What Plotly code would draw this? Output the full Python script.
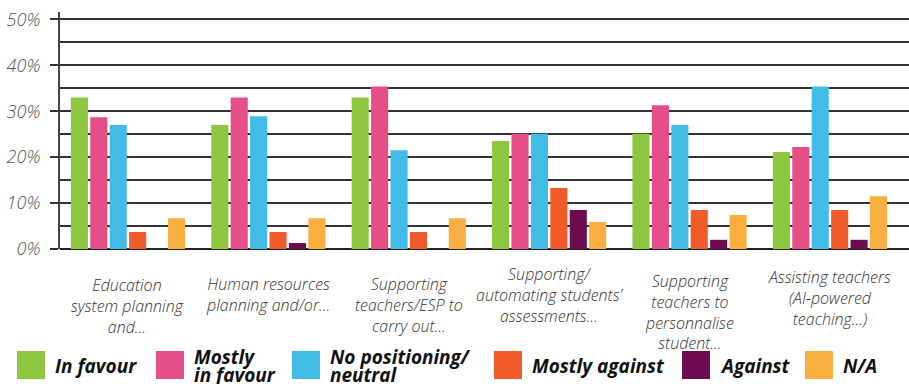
import plotly.graph_objects as go

# ---- data -------------------------------------------------------------
categories = [
    "Education<br>system planning<br>and…",
    "Human resources<br>planning and/or…",
    "Supporting<br>teachers/ESP to<br>carry out…",
    "Supporting/<br>automating students’<br>assessments…",
    "Supporting<br>teachers to<br>personnalise<br>student…",
    "Assisting teachers<br>(AI-powered<br>teaching…)",
]

series_names = [
    "In favour",
    "Mostly<br>in favour",
    "No positioning/<br>neutral",
    "Mostly against",
    "Against",
    "N/A",
]

in_favour = [33.0, 27.0, 33.0, 23.5, 25.1, 21.1]
mostly_in_favour = [28.7, 33.0, 35.4, 25.1, 31.3, 22.2]
neutral = [27.0, 28.9, 21.5, 25.1, 27.0, 35.4]
mostly_against = [3.7, 3.7, 3.7, 13.3, 8.5, 8.5]
against = [0.0, 1.3, 0.0, 8.5, 2.0, 2.0]
not_applicable = [6.7, 6.7, 6.7, 5.9, 7.4, 11.5]

series_values = [in_favour, mostly_in_favour, neutral,
                 mostly_against, against, not_applicable]

y_tick_values = [0, 10, 20, 30, 40, 50]
y_tick_labels = ["0%", "10%", "20%", "30%", "40%", "50%"]

# ---- style ------------------------------------------------------------
colors = ["#8DC63F", "#E64E87", "#41BCE6", "#F15B2A", "#6E0B4F", "#F9AE40"]

W, H = 909, 384
M_L, M_R, M_T, M_B = 60, 0, 12, 135
plot_w = W - M_L - M_R
plot_h = H - M_T - M_B


def px_x(px):
    return (px - M_L) / plot_w


def px_y(py):
    return (H - M_B - py) / plot_h


FONT = "Open Sans"

fig = go.Figure()
for name, vals, col in zip(series_names, series_values, colors):
    fig.add_trace(go.Bar(
        x=categories, y=vals, name=name.replace("<br>", " "),
        marker=dict(color=col, line=dict(width=0)),
        showlegend=False,
    ))

# category labels under the axis
label_first_line_px = [283, 282, 282, 272, 279, 275]
annotations = []
for cat, top in zip(categories, label_first_line_px):
    annotations.append(dict(
        x=cat, xref="x", y=px_y(top - 11), yref="paper",
        xanchor="center", yanchor="top", showarrow=False,
        text=cat, align="center",
        font=dict(family=FONT, size=16, color="#333333",
                  style="italic", weight=300),
    ))

# legend drawn as swatches + labels along the bottom edge
legend_square_px = [17, 156, 292, 494, 682, 805]
shapes = []
for name, col, sx in zip(series_names, colors, legend_square_px):
    shapes.append(dict(
        type="rect", xref="paper", yref="paper",
        x0=px_x(sx), x1=px_x(sx + 28), y0=px_y(379), y1=px_y(351),
        fillcolor=col, line=dict(width=0), layer="above",
    ))
    lines = name.split("<br>")
    centers = [366] if len(lines) == 1 else [357, 375]
    for line, cy in zip(lines, centers):
        annotations.append(dict(
            x=px_x(sx + 36), xref="paper", y=px_y(cy), yref="paper",
            xanchor="left", yanchor="middle", showarrow=False,
            text=line,
            font=dict(family=FONT, size=19, color="#111111",
                      style="italic", weight=700),
        ))

fig.update_layout(
    width=W, height=H,
    margin=dict(l=M_L, r=M_R, t=M_T, b=M_B, pad=0),
    paper_bgcolor="white", plot_bgcolor="white",
    barmode="group", bargap=0.17, bargroupgap=0.12,
    annotations=annotations, shapes=shapes,
    showlegend=False,
)

fig.update_xaxes(
    range=[-0.484, 5.563], showticklabels=False, showgrid=False,
    showline=False, zeroline=False, ticks="",
)

fig.update_yaxes(
    range=[0, 51.6],
    tickmode="array", tickvals=y_tick_values, ticktext=y_tick_labels,
    tickfont=dict(family=FONT, size=18, color="#555555",
                  style="italic", weight=300),
    ticks="outside", ticklen=8, tickwidth=1.5, tickcolor="#333333",
    ticklabelstandoff=6,
    showgrid=True, gridcolor="#333333", gridwidth=1.5,
    minor=dict(dtick=5, tick0=0, showgrid=True, gridcolor="#333333",
               gridwidth=1.5, ticks=""),
    showline=True, linecolor="#444444", linewidth=2,
    zeroline=True, zerolinecolor="#222222", zerolinewidth=2,
)

fig.write_html("out.html")
